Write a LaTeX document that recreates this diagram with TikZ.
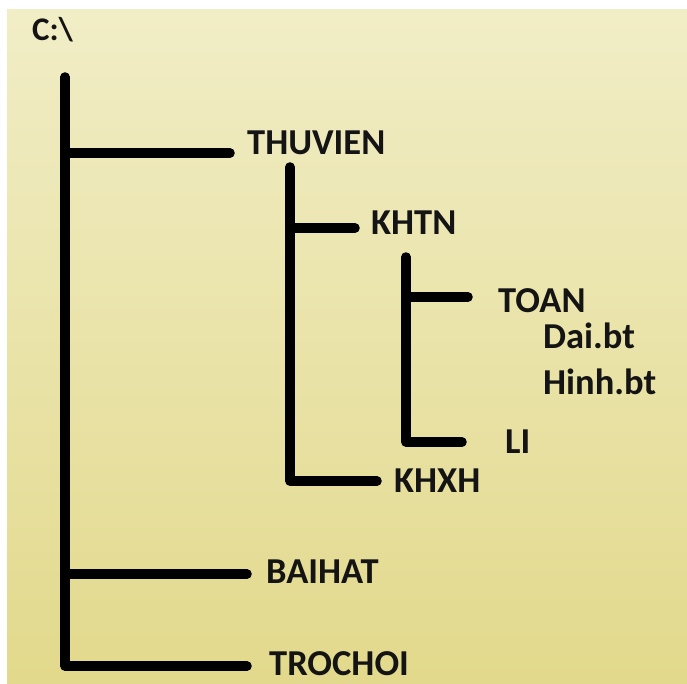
\documentclass[tikz,border=0pt]{standalone}
\usepackage{fontspec}
\setmainfont{Carlito}
\definecolor{bgtop}{RGB}{241,237,198}
\definecolor{bgbot}{RGB}{226,217,140}
\definecolor{ink}{RGB}{20,20,20}
\tikzset{
  tree/.style={draw=black,line width=9.5pt,line cap=round,line join=round},
  lbl/.style={anchor=base west,inner sep=0pt,text=ink,font=\fontsize{36.5}{40}\selectfont\bfseries},
  rootlbl/.style={anchor=base west,inner sep=0pt,text=ink,font=\fontsize{33}{36}\selectfont\bfseries}
}
\begin{document}
\begin{tikzpicture}[x=1pt,y=-1pt]
\useasboundingbox (0,0) rectangle (687,684);
\fill[white] (0,0) rectangle (687,684);
\shade[top color=bgtop,bottom color=bgbot] (7,10) rectangle (687,684);
% labels
\node[rootlbl] (root) at (32,41) {C:\textbackslash};
\node[lbl] (thuvien) at (247,155) {THUVIEN};
\node[lbl] (khtn) at (371,235) {KHTN};
\node[lbl] (toan) at (498,312) {TOAN};
\node[lbl] (dai) at (543,348) {Dai.bt};
\node[lbl] (hinh) at (543,394) {Hinh.bt};
\node[lbl] (li) at (505,453) {LI};
\node[lbl] (khxh) at (394,492) {KHXH};
\node[lbl] (baihat) at (266,583) {BAIHAT};
\node[lbl] (trochoi) at (269,675) {TROCHOI};
% tree coordinates
\coordinate (m0) at (65,77);
\coordinate (eThu) at (230,153);
\coordinate (eBai) at (247,574);
\coordinate (eTro) at (247,666);
\coordinate (s0) at (290,167);
\coordinate (eKhtn) at (355,228);
\coordinate (eKhxh) at (377,481);
\coordinate (t0) at (406,257);
\coordinate (eToan) at (468,297);
\coordinate (eLi) at (462,442);
% tree lines
\draw[tree] (m0) |- (eTro);
\draw[tree] (m0 |- eThu) -- (eThu);
\draw[tree] (m0 |- eBai) -- (eBai);
\draw[tree] (s0) |- (eKhxh);
\draw[tree] (s0 |- eKhtn) -- (eKhtn);
\draw[tree] (t0) |- (eLi);
\draw[tree] (t0 |- eToan) -- (eToan);
\end{tikzpicture}
\end{document}
